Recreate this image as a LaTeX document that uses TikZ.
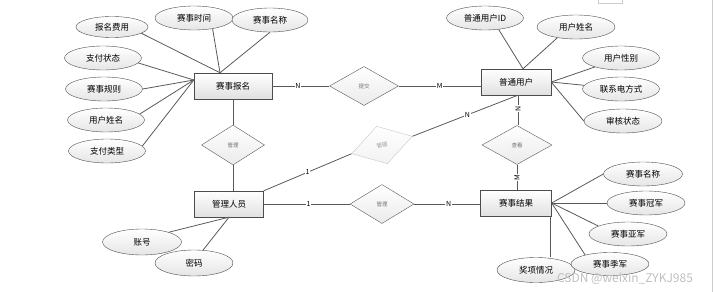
\documentclass[tikz,border=0pt]{standalone}
\usepackage{fontspec}
\setmainfont{Noto Sans CJK SC}
\usetikzlibrary{shapes.geometric}
\tikzset{
  entity/.style={draw=black!70, top color=white, bottom color=black!12, minimum width=70pt, minimum height=26pt, inner sep=2pt, font=\fontsize{8.5}{10}\selectfont},
  attr/.style={ellipse, draw=black!70, top color=white, bottom color=black!10, minimum width=77pt, minimum height=24pt, inner sep=1pt, font=\fontsize{8.5}{10}\selectfont},
  rel/.style={diamond, draw=black!65, top color=white, bottom color=black!8, minimum width=66pt, minimum height=39pt, inner sep=0pt, text=black!55, font=\fontsize{5.5}{6}\selectfont},
  ghostrel/.style={rel, draw=black!22, text=black!40, bottom color=black!5},
  link/.style={draw=black!65, line width=0.8pt},
  card/.style={fill=white, inner sep=0.8pt, font=\fontsize{7}{8}\selectfont}
}

\begin{document}
\begin{tikzpicture}[x=1pt,y=-1pt]
\useasboundingbox (0,0) rectangle (713,292);
\draw[black!20, line width=1pt] (712,0) -- (712,292);
\draw[black!20] (598,0) -- (598,3) -- (622,3) -- (622,0);

% entities
\node[entity, minimum width=78pt] (sm) at (233,86) {赛事报名};
\node[entity] (yh) at (516,82) {普通用户};
\node[entity, minimum width=69pt] (gly) at (229,204) {管理人员};
\node[entity, minimum width=71pt] (jg) at (516,203) {赛事结果};

% relations
\node[rel, minimum width=69pt] (tj) at (364,86) {提交};
\node[rel, minimum width=63pt, minimum height=40pt] (gl1) at (233,145) {管理};
\node[ghostrel, minimum width=63pt, rotate=16] (gl2) at (382,145) {管理};
\node[rel, minimum width=64pt] (gl3) at (382,204) {管理};
\node[rel, minimum width=70pt] (ck) at (517,145) {查看};

% attributes of 赛事报名
\node[attr, minimum width=72pt, minimum height=21pt] (a1) at (112,27) {报名费用};
\node[attr, minimum width=78pt] (a2) at (194,18) {赛事时间};
\node[attr, minimum width=76pt] (a3) at (270,20) {赛事名称};
\node[attr] (a4) at (103,58) {支付状态};
\node[attr] (a5) at (104,89) {赛事规则};
\node[attr] (a6) at (106,120) {用户姓名};
\node[attr] (a7) at (107,151) {支付类型};

% attributes of 普通用户
\node[attr] (b1) at (485,18) {普通用户ID};
\node[attr, minimum width=78pt] (b2) at (576,27) {用户姓名};
\node[attr] (b3) at (621,58) {用户性别};
\node[attr] (b4) at (621,89) {联系电方式};
\node[attr, minimum width=78pt] (b5) at (623,121) {审核状态};

% attributes of 管理人员
\node[attr, minimum width=79pt, minimum height=26pt] (c1) at (142,242) {账号};
\node[attr, minimum width=78pt, minimum height=26pt] (c2) at (194,263) {密码};

% attributes of 赛事结果
\node[attr, minimum width=79pt] (d1) at (643,174) {赛事名称};
\node[attr, minimum width=78pt] (d2) at (646,203) {赛事冠军};
\node[attr, minimum width=78pt] (d3) at (628,234) {赛事亚军};
\node[attr, minimum width=78pt, minimum height=25pt] (d5) at (536,270) {奖项情况};
\node[attr, minimum width=78pt, minimum height=23pt] (d4) at (610,264) {赛事季军};

% attribute links
\coordinate (smt) at ([xshift=-13pt]sm.north);
\coordinate (sml) at ([yshift=6pt]sm.west);
\draw[link] (a1.-12) -- (smt);
\draw[link] (a2.-30) -- (smt);
\draw[link] (a3.south) -- (smt);
\draw[link] (a4.-8) -- (sml);
\draw[link] (a5.east) -- (sml);
\draw[link] (a6.10) -- (sml);
\draw[link] (a7.8) -- (sml);
\coordinate (yht) at ([xshift=7pt]yh.north);
\draw[link] (b1.-40) -- (yht);
\draw[link] (b2.-150) -- (yht);
\draw[link] (b3) -- (yh.east);
\draw[link] (b4) -- (yh.east);
\draw[link] (b5.west) -- (yh.east);
\draw[link] (c1.20) -- (gly.south);
\draw[link] (c2.55) -- (gly.south);
\draw[link] (d1.west) -- (jg.east);
\draw[link] (d2.west) -- (jg.east);
\draw[link] (d3.165) -- (jg.east);
\draw[link] (d4.160) -- (jg.east);
\draw[link] ([xshift=-1pt]jg.south east) -- ([xshift=-1pt]jg.south east |- d5.north);

% relation links
\coordinate (yhb) at ([xshift=2pt]yh.south);
\draw[link] (sm.east) -- (tj.west) node[card, pos=0.45] {N};
\draw[link] (tj.east) -- (tj.east -| yh.west) node[card, pos=0.5] {M};
\draw[link] (sm.south -| gl1.north) -- (gl1.north);
\draw[link] (gl1.south) -- (gl1.south |- gly.north);
\draw[link] (gly.north east) -- (gl2.west) node[card, pos=0.5] {1};
\draw[link] (gl2.east) -- (yhb) node[card, pos=0.52] {N};
\draw[link] (yhb) -- (yhb |- ck.north) node[card, pos=0.45, rotate=90] {N};
\draw[link] (ck.south) -- (ck.south |- jg.north) node[card, pos=0.5, rotate=90] {M};
\draw[link] (gly.east) -- (gl3.west) node[card, pos=0.52] {1};
\draw[link] (gl3.east) -- (gl3.east -| jg.west) node[card, pos=0.52] {N};

\node[text=black!25, font=\fontsize{12}{13}\selectfont] (wm) at (625,279) {CSDN @weixin\_ZYKJ985};
\end{tikzpicture}
\end{document}
